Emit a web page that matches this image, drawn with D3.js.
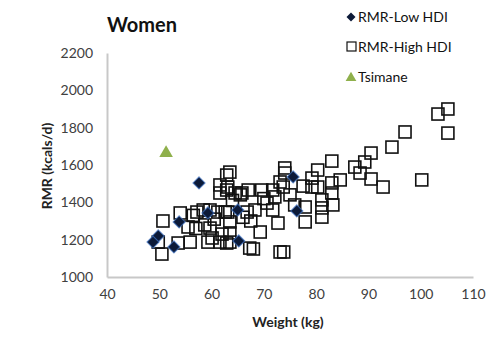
<!DOCTYPE html>
<html><head><meta charset="utf-8">
<script src="https://cdn.jsdelivr.net/npm/d3@7"></script>
<style>
body{margin:0;background:#fff;}
text{font-family:Lato,"Open Sans",sans-serif;}
</style></head>
<body><svg id="c" width="498" height="341"></svg>
<script>
const xTicks = [40,50,60,70,80,90,100,110];
const yTicks = [1000,1200,1400,1600,1800,2000,2200];
const lowW = [57.6,53.8,49.8,48.8,52.8,59.3,75.6,76.3,65.0,65.2];
const lowR = [1504,1295,1220,1187,1161,1343,1536,1354,1359,1193];
const highW = [50.7,50.5,49.8,53.6,55.9,54.0,55.5,57.2,58.4,59.7,61.2,62.6,58.7,59.7,60.1,59.3,61.6,62.9,61.6,61.6,62.9,62.9,
  105.2,103.3,105.2,97.0,94.5,90.5,89.3,87.4,88.4,90.5,92.8,100.2,84.6,83.0,80.3,79.2,77.5,79.2,80.3,83.0,83.0,83.2,81.1,81.1,81.1,77.9,77.9,
  63.5,63.1,64.5,65.8,67.0,69.6,71.7,74.0,74.0,73.7,75.9,72.7,69.3,66.8,68.3,71.7,70.6,63.1,63.5,63.5,63.5,67.3,68.0,73.1,73.8,72.1,73.1,
  60.5,64.0,66.0,62.0,57.0,56.5,65.5,70.0,75.0,67.5];
const highR = [1300,1123,1187,1182,1187,1343,1268,1348,1359,1359,1348,1348,1279,1262,1209,1187,1187,1182,1493,1450,1546,1466,
  1900,1873,1771,1777,1696,1664,1616,1589,1557,1525,1482,1520,1520,1621,1573,1530,1487,1482,1482,1504,1450,1386,1413,1370,1321,1375,1295,
  1562,1482,1450,1450,1466,1466,1466,1584,1557,1482,1386,1289,1241,1348,1359,1359,1396,1348,1295,1236,1187,1155,1150,1134,1134,1429,1509,
  1310,1410,1320,1230,1260,1330,1440,1420,1440,1300];
const tsW = [51.3];
const tsR = [1664];

const svg = d3.select("#c");
const x = d3.scaleLinear().domain([40,110]).range([107,473]);
const y = d3.scaleLinear().domain([1000,2200]).range([277,53]);

// axes
const xa = svg.append("g").attr("transform","translate(0,277)")
  .call(d3.axisBottom(x).tickValues(xTicks).tickFormat(d3.format("d")).tickSize(0).tickPadding(12));
const ya = svg.append("g").attr("transform","translate(107,0)")
  .call(d3.axisLeft(y).tickValues(yTicks).tickFormat(d3.format("d")).tickSize(0).tickPadding(14));
[xa,ya].forEach(a=>{
  a.select(".domain").attr("stroke","#c8c8c8").attr("stroke-width",2);
  a.selectAll("text").attr("font-size",14).attr("fill","#404040").attr("font-family","Lato");
});

// high HDI squares
const sq = 12;
svg.append("g").selectAll("rect").data(highW.map((w,i)=>[w,highR[i]])).join("rect")
  .attr("x",d=>x(d[0])-sq/2).attr("y",d=>y(d[1])-sq/2)
  .attr("width",sq).attr("height",sq)
  .attr("fill","none").attr("stroke","#111").attr("stroke-width",1.6);

// low HDI diamonds (equal-axis)
const diaPath = r => `M0,${-r}L${r},0L0,${r}L${-r},0Z`;
svg.append("g").selectAll("path").data(lowW.map((w,i)=>[w,lowR[i]])).join("path")
  .attr("d",diaPath(6)).attr("transform",d=>`translate(${x(d[0])},${y(d[1])})`)
  .attr("fill","#0c1a38").attr("stroke","#3c6fc0").attr("stroke-width",1.2).attr("stroke-opacity",0.7);

// Tsimane
const tri = d3.symbol().type(d3.symbolTriangle).size(80);
svg.append("g").selectAll("path").data(tsW.map((w,i)=>[w,tsR[i]])).join("path")
  .attr("d",tri).attr("transform",d=>`translate(${x(d[0])},${y(d[1])})`)
  .attr("fill","#8fb04c");

// title
svg.append("text").attr("x",107).attr("y",32).attr("font-size",20).attr("font-weight","bold").attr("fill","#111").text("Women");
// axis titles
svg.append("text").attr("x",288).attr("y",327).attr("text-anchor","middle").attr("font-size",14).attr("font-weight","bold").attr("fill","#222").text("Weight (kg)");
svg.append("text").attr("transform","translate(52,166) rotate(-90)").attr("text-anchor","middle").attr("font-size",14).attr("font-weight","bold").attr("fill","#222").text("RMR (kcals/d)");

// legend
const lg = svg.append("g");
lg.append("path").attr("d",diaPath(4.5)).attr("transform","translate(351,17)").attr("fill","#0c1a38");
lg.append("rect").attr("x",347).attr("y",42).attr("width",9).attr("height",9).attr("fill","none").attr("stroke","#111").attr("stroke-width",1.2);
lg.append("path").attr("d",d3.symbol().type(d3.symbolTriangle).size(50)).attr("transform","translate(351,78)").attr("fill","#8fb04c");
const lt = ["RMR-Low HDI","RMR-High HDI","Tsimane"];
lt.forEach((t,i)=>lg.append("text").attr("x",358).attr("y",22+i*30).attr("font-size",14).attr("fill","#111").text(t));
</script></body></html>
